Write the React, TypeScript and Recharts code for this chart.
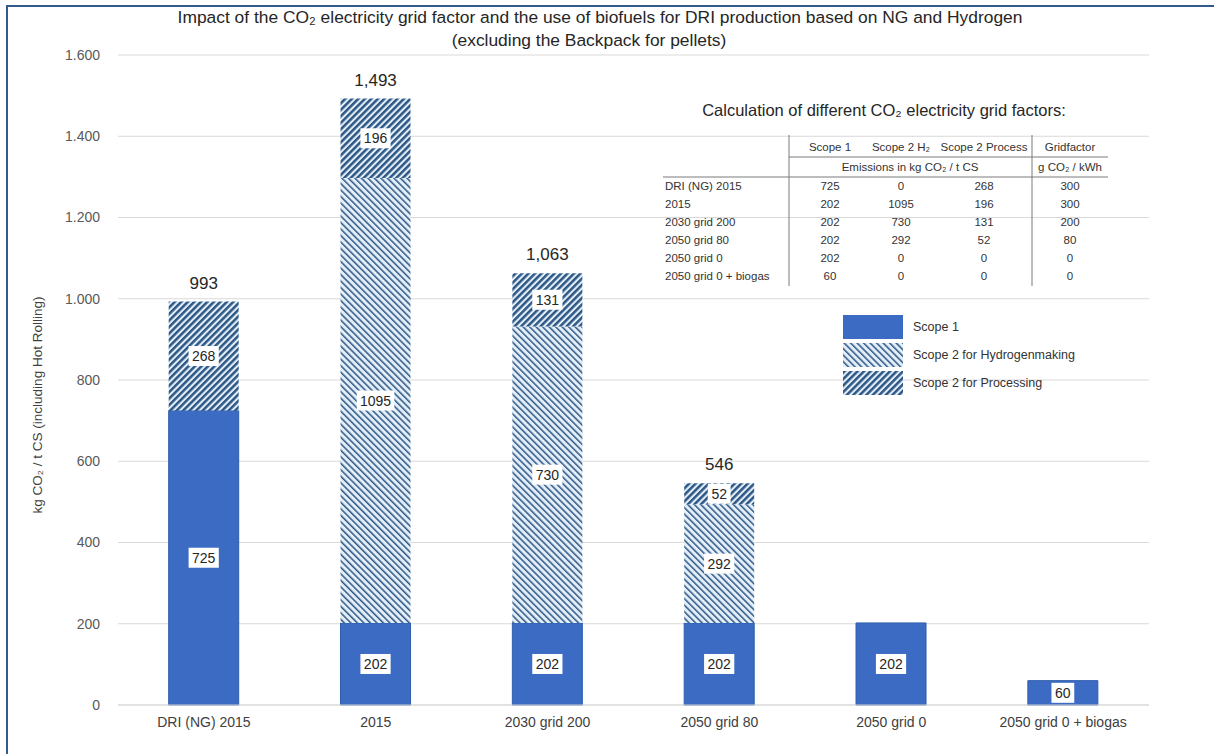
import { BarChart, Bar, XAxis, YAxis, CartesianGrid, LabelList, Legend } from "recharts"

const FONT = "'Liberation Sans Narrow', 'Liberation Sans', Arial, sans-serif"

const categories = ["DRI (NG) 2015", "2015", "2030 grid 200", "2050 grid 80", "2050 grid 0", "2050 grid 0 + biogas"]
const scope1 = [725, 202, 202, 202, 202, 60]
const scope2Hydrogen = [0, 1095, 730, 292, 0, 0]
const scope2Process = [268, 196, 131, 52, 0, 0]
const gridFactor = [300, 300, 200, 80, 0, 0]
const yTicks = [0, 200, 400, 600, 800, 1000, 1200, 1400, 1600]

const SCOPE1_BLUE = "#3b6bc3"
const HATCH_DARK = "#2c5784"
const HATCH_LIGHT = "#e4eef9"

const data = categories.map((name, i) => {
  const scope2 = scope2Hydrogen[i] + scope2Process[i]
  return {
    name,
    scope1: scope1[i],
    hydrogen: scope2Hydrogen[i],
    process: scope2Process[i],
    total: scope2 > 0 ? scope1[i] + scope2 : null,
  }
})

// 1600 -> "1.600"
const dotThousands = (v: number) =>
  v >= 1000 ? `${Math.floor(v / 1000)}.${String(v % 1000).padStart(3, "0")}` : String(v)

function BoxLabel(props: any) {
  const { x, y, width, height, value } = props
  if (!value) return null
  const text = String(value)
  const w = text.length * 7.4 + 8
  const cx = x + width / 2
  const cy = y + height / 2
  return (
    <g>
      <rect x={cx - w / 2} y={cy - 10} width={w} height={20} fill="#ffffff" />
      <text x={cx} y={cy} dy="0.36em" textAnchor="middle" fontSize={14} fill="#262626" fontFamily={FONT}>
        {text}
      </text>
    </g>
  )
}

function TotalLabel(props: any) {
  const { x, y, width, value } = props
  if (value == null) return null
  return (
    <text x={x + width / 2} y={y - 19} dy="0.36em" textAnchor="middle" fontSize={17} fill="#262626" fontFamily={FONT}>
      {Number(value).toLocaleString("en-US")}
    </text>
  )
}

function LegendBox(props: any) {
  const items = props.payload || []
  return (
    <div style={{ fontFamily: FONT, fontSize: 12.5, color: "#333" }}>
      {items.map((item: any) => (
        <div key={item.value} style={{ display: "flex", alignItems: "center", height: 28 }}>
          <svg width={60} height={24} style={{ marginRight: 10 }}>
            <rect x={0} y={0} width={60} height={24} fill={item.color} />
          </svg>
          <span>{item.value}</span>
        </div>
      ))}
    </div>
  )
}

const tableCols = [830, 901, 984, 1070]
const rowY = [186, 204, 222, 240, 258, 276]

function GridFactorTable() {
  const rows = categories.map((c, i) => [scope1[i], scope2Hydrogen[i], scope2Process[i], gridFactor[i]])
  return (
    <g fontFamily={FONT} fill="#333">
      <text x={884} y={110} dy="0.36em" textAnchor="middle" fontSize={16.5} fill="#262626">
        Calculation of different CO₂ electricity grid factors:
      </text>
      <g fontSize={11.5}>
        <text x={tableCols[0]} y={147} dy="0.36em" textAnchor="middle">Scope 1</text>
        <text x={tableCols[1]} y={147} dy="0.36em" textAnchor="middle">Scope 2 H₂</text>
        <text x={tableCols[2]} y={147} dy="0.36em" textAnchor="middle">Scope 2 Process</text>
        <text x={tableCols[3]} y={147} dy="0.36em" textAnchor="middle">Gridfactor</text>
        <text x={910} y={167} dy="0.36em" textAnchor="middle">Emissions in kg CO₂ / t CS</text>
        <text x={tableCols[3]} y={167} dy="0.36em" textAnchor="middle">g CO₂ / kWh</text>
        {rows.map((r, i) => (
          <g key={categories[i]}>
            <text x={665} y={rowY[i]} dy="0.36em">{categories[i]}</text>
            {r.map((v, j) => (
              <text key={j} x={tableCols[j]} y={rowY[i]} dy="0.36em" textAnchor="middle">{v}</text>
            ))}
          </g>
        ))}
      </g>
      <g stroke="#7a7a7a" strokeWidth={1}>
        <line x1={789} y1={135} x2={789} y2={286} />
        <line x1={1032} y1={135} x2={1032} y2={286} />
        <line x1={789} y1={157} x2={1108} y2={157} />
        <line x1={663} y1={177} x2={1108} y2={177} />
      </g>
    </g>
  )
}

export default function App() {
  return (
    <div style={{ position: "absolute", left: 0, top: 0, width: 1214, height: 754, background: "#fff", overflow: "hidden" }}>
      <svg width={0} height={0} style={{ position: "absolute" }}>
        <defs>
          <pattern id="hatchHydrogen" width={4.6} height={4.6} patternUnits="userSpaceOnUse" patternTransform="rotate(-45)">
            <rect width={4.6} height={4.6} fill={HATCH_LIGHT} />
            <rect width={1.5} height={4.6} fill={HATCH_DARK} />
          </pattern>
          <pattern id="hatchProcess" width={4.6} height={4.6} patternUnits="userSpaceOnUse" patternTransform="rotate(45)">
            <rect width={4.6} height={4.6} fill={HATCH_LIGHT} />
            <rect width={2.5} height={4.6} fill={HATCH_DARK} />
          </pattern>
        </defs>
      </svg>
      <div style={{ position: "absolute", left: 6, top: 5, right: -4, bottom: -4, borderLeft: "2px solid #34598c", borderTop: "2px solid #34598c" }} />
      <BarChart
        width={1214}
        height={754}
        data={data}
        margin={{ top: 55, right: 65, bottom: 19, left: 0 }}
        barCategoryGap="29.5%"
      >
        <CartesianGrid vertical={false} stroke="#d9d9d9" />
        <XAxis
          dataKey="name"
          height={30}
          tickLine={false}
          tickSize={0}
          tickMargin={12}
          axisLine={{ stroke: "#d9d9d9" }}
          tick={{ fontSize: 14, fill: "#404040", fontFamily: FONT }}
          interval={0}
        />
        <YAxis
          width={118}
          domain={[0, 1600]}
          ticks={yTicks}
          axisLine={false}
          tickLine={false}
          tickSize={0}
          tickMargin={18}
          tickFormatter={dotThousands}
          tick={{ fontSize: 14, fill: "#595959", fontFamily: FONT }}
        />
        <Legend
          layout="vertical"
          align="center"
          verticalAlign="middle"
          wrapperStyle={{ position: "absolute", left: 843, top: 313, width: 260 }}
          content={<LegendBox />}
        />
        <Bar dataKey="scope1" name="Scope 1" stackId="a" fill={SCOPE1_BLUE} stroke="#2f5dab" strokeWidth={1} isAnimationActive={false}>
          <LabelList dataKey="scope1" content={<BoxLabel />} />
        </Bar>
        <Bar dataKey="hydrogen" name="Scope 2 for  Hydrogenmaking" stackId="a" fill="url(#hatchHydrogen)" isAnimationActive={false}>
          <LabelList dataKey="hydrogen" content={<BoxLabel />} />
        </Bar>
        <Bar dataKey="process" name="Scope 2 for  Processing" stackId="a" fill="url(#hatchProcess)" isAnimationActive={false}>
          <LabelList dataKey="process" content={<BoxLabel />} />
          <LabelList dataKey="total" content={<TotalLabel />} />
        </Bar>
      </BarChart>
      <svg width={1214} height={754} style={{ position: "absolute", left: 0, top: 0, pointerEvents: "none" }}>
        <g fontFamily={FONT} fill="#262626" fontSize={17.4} textAnchor="middle">
          <text x={600} y={17} dy="0.36em">Impact of the CO₂ electricity grid factor and the use of biofuels for DRI production based on NG and Hydrogen</text>
          <text x={589} y={40} dy="0.36em">(excluding the Backpack for pellets)</text>
        </g>
        <text
          x={37}
          y={405}
          transform="rotate(-90 37 405)"
          dy="0.36em"
          textAnchor="middle"
          fontSize={13.5}
          fill="#404040"
          fontFamily={FONT}
        >
          kg CO₂ / t CS (including Hot Rolling)
        </text>
        <GridFactorTable />
      </svg>
    </div>
  )
}
